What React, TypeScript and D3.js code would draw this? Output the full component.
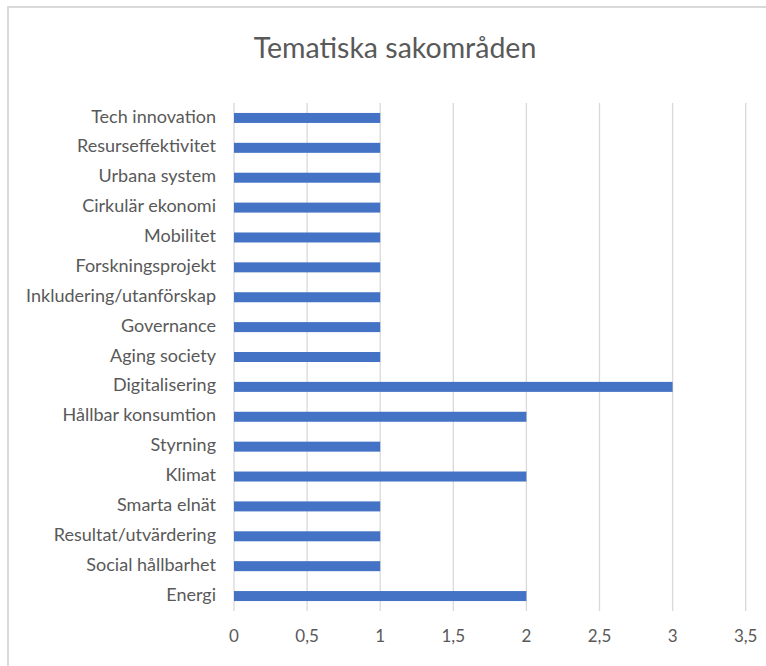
import React from "react";
import * as d3 from "d3";

const categories = [
  "Tech innovation",
  "Resurseffektivitet",
  "Urbana system",
  "Cirkulär ekonomi",
  "Mobilitet",
  "Forskningsprojekt",
  "Inkludering/utanförskap",
  "Governance",
  "Aging society",
  "Digitalisering",
  "Hållbar konsumtion",
  "Styrning",
  "Klimat",
  "Smarta elnät",
  "Resultat/utvärdering",
  "Social hållbarhet",
  "Energi",
];
const values = [1, 1, 1, 1, 1, 1, 1, 1, 1, 3, 2, 1, 2, 1, 1, 1, 2];
const ticks = [0, 0.5, 1, 1.5, 2, 2.5, 3, 3.5];
const title = "Tematiska sakområden";

const W = 766;
const H = 666;
const FONT = "Lato, 'Open Sans', sans-serif";
const TEXT = "#595959";

export default function App() {
  const x = d3.scaleLinear().domain([0, 3.5]).range([234, 745.7]);
  const y = d3.scaleBand<string>().domain(categories).range([103, 611]).paddingInner(0.66).paddingOuter(0.33);
  const bh = 10;
  const fmt = (v: number) => String(v).replace(".", ",");
  return (
    <svg
      width={W}
      height={H}
      style={{ position: "absolute", left: 0, top: 0, background: "#fff" }}
      fontFamily={FONT}
    >
      <rect x={0} y={0} width={W} height={H} fill="#fff" />
      <rect x={8} y={7} width={W + 20} height={H + 20} fill="none" stroke="#d9d9d9" strokeWidth={2} />
      <text x={395} y={51} textAnchor="middle" dominantBaseline="middle" fontSize={28.5} fill={TEXT}>
        {title}
      </text>
      {ticks.map((t) => (
        <g key={t}>
          <line x1={x(t)} x2={x(t)} y1={103} y2={611} stroke="#d9d9d9" strokeWidth={1.3} />
          <text x={x(t)} y={638} textAnchor="middle" dominantBaseline="middle" fontSize={17} fill={TEXT}>
            {fmt(t)}
          </text>
        </g>
      ))}
      {categories.map((c, i) => {
        const cy = (y(c) as number) + y.bandwidth() / 2;
        return (
          <g key={c}>
            <rect x={x(0)} y={cy - bh / 2} width={x(values[i]) - x(0)} height={bh} fill="#4472C4" />
            <text x={216} y={cy} textAnchor="end" dominantBaseline="middle" fontSize={18} fill={TEXT}>
              {c}
            </text>
          </g>
        );
      })}
    </svg>
  );
}
